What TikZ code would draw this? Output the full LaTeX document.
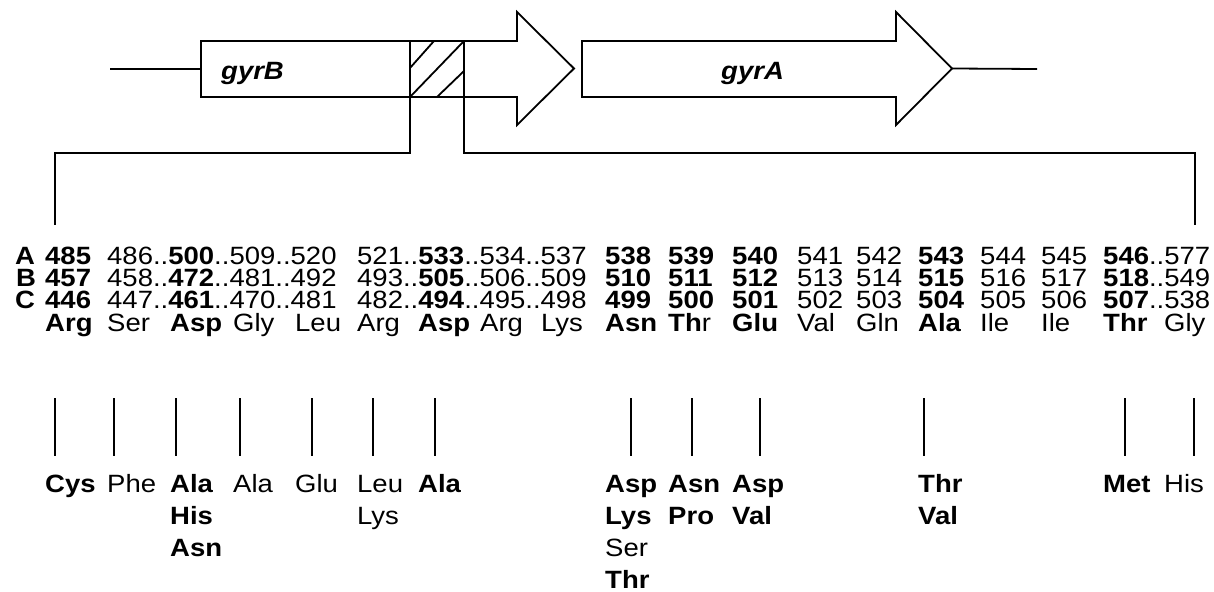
\documentclass[tikz,border=0pt]{standalone}
\usepackage{fontspec}
\setmainfont{Liberation Sans}[FakeStretch=1.1]
\begin{document}
\begin{tikzpicture}[x=1pt,y=-1pt,
  cell/.style={anchor=base west,inner sep=0pt,text height=17pt,text depth=4pt,font=\fontsize{25}{25}\selectfont},
  genelabel/.style={anchor=base west,inner sep=0pt,font=\fontsize{25}{25}\selectfont\bfseries\itshape},
  gene/.style={draw,line width=1.8pt,line join=miter},
  wire/.style={line width=1.8pt},
  tick/.style={line width=1.8pt}]
\useasboundingbox (0,0) rectangle (1214,591);

% --- genes ---
\coordinate (bstart) at (201,69);
\coordinate (bend) at (110,69);
\draw[gene] (201,41) -- (517,41) -- (517,12) -- (574,68.5) -- (517,125) -- (517,97) -- (201,97) -- cycle;
\coordinate (atip) at (952,68.5);
\coordinate (aend) at (1037,69);
\draw[gene] (582,41) -- (896,41) -- (896,12) -- (952,68.5) -- (896,125) -- (896,97) -- (582,97) -- cycle;
\draw[wire] (bend) -- (bstart);
\draw[wire] (atip) -- (aend);
\node[genelabel] (gyrB) at (221,80) {gyrB};
\node[genelabel] (gyrA) at (721,80) {gyrA};

% hatched region
\draw[wire] (410,68) -- (434,41);
\draw[wire] (410,97) -- (464,41);
\draw[wire] (437,97) -- (464,71);

% bracket
\coordinate (hl) at (410,41);
\coordinate (hr) at (464,41);
\coordinate (bl) at (55,225);
\coordinate (br) at (1195,225);
\draw[wire] (hl) -- (410,153) -- (55,153) -- (bl);
\draw[wire] (hr) -- (464,153) -- (1195,153) -- (br);

% --- table ---
\node[cell,font=\fontsize{25}{25}\selectfont\bfseries] (lA) at (15,264) {A};
\node[cell,font=\fontsize{25}{25}\selectfont\bfseries] (lB) at (16,286) {B};
\node[cell,font=\fontsize{25}{25}\selectfont\bfseries] (lC) at (15,308) {C};

\foreach \x/\t [count=\i] in {45/\textbf{485},107/486..\textbf{500}..509..520,357/521..\textbf{533}..534..537,
  605/\textbf{538},668/\textbf{539},732/\textbf{540},797/541,856/542,918/\textbf{543},980/544,1041/545,1103/\textbf{546}..577}
  \node[cell] (rA\i) at (\x,264) {\t};
\foreach \x/\t [count=\i] in {45/\textbf{457},107/458..\textbf{472}..481..492,357/493..\textbf{505}..506..509,
  605/\textbf{510},668/\textbf{511},732/\textbf{512},797/513,856/514,918/\textbf{515},980/516,1041/517,1103/\textbf{518}..549}
  \node[cell] (rB\i) at (\x,286) {\t};
\foreach \x/\t [count=\i] in {45/\textbf{446},107/447..\textbf{461}..470..481,357/482..\textbf{494}..495..498,
  605/\textbf{499},668/\textbf{500},732/\textbf{501},797/502,856/503,918/\textbf{504},980/505,1041/506,1103/\textbf{507}..538}
  \node[cell] (rC\i) at (\x,308) {\t};
\foreach \x/\t [count=\i] in {45/\textbf{Arg},107/Ser,170/\textbf{Asp},233/Gly,295/Leu,357/Arg,418/\textbf{Asp},480/Arg,541/Lys,
  605/\textbf{Asn},668/\textbf{Th}r,732/\textbf{Glu},797/Val,856/Gln,918/\textbf{Ala},980/Ile,1041/Ile,1103/\textbf{Thr},1164/Gly}
  \node[cell] (aa\i) at (\x,331) {\t};

% --- mutation ticks ---
\foreach \x [count=\i] in {55,114,176,240,312,373,435,631,692,760,924,1125,1194}{
  \coordinate (mt\i) at (\x,398);
  \coordinate (mb\i) at (\x,456);
  \draw[tick] (mt\i) -- (mb\i);
}

% --- substitutions ---
\foreach \x/\t [count=\i] in {45/\textbf{Cys},107/Phe,170/\textbf{Ala},233/Ala,295/Glu,357/Leu,418/\textbf{Ala},
  605/\textbf{Asp},668/\textbf{Asn},732/\textbf{Asp},918/\textbf{Thr},1103/\textbf{Met},1164/His}
  \node[cell] (s1\i) at (\x,492) {\t};
\foreach \x/\t [count=\i] in {170/\textbf{His},357/Lys,605/\textbf{Lys},668/\textbf{Pro},732/\textbf{Val},918/\textbf{Val}}
  \node[cell] (s2\i) at (\x,524) {\t};
\foreach \x/\t [count=\i] in {170/\textbf{Asn},605/Ser}
  \node[cell] (s3\i) at (\x,556) {\t};
\node[cell] (s41) at (605,588) {\textbf{Thr}};
\end{tikzpicture}
\end{document}
